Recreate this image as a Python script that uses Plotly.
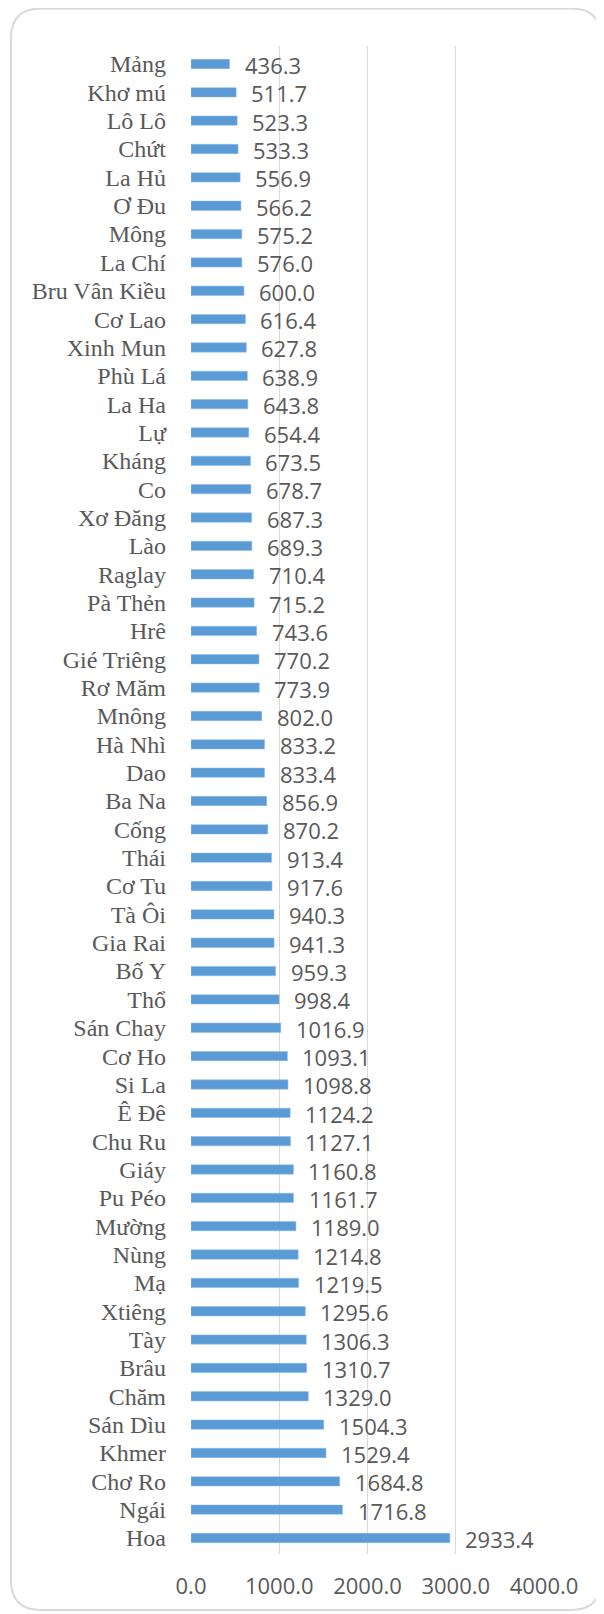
import plotly.graph_objects as go

groups = ["Mảng", "Khơ mú", "Lô Lô", "Chứt", "La Hủ", "Ơ Đu", "Mông", "La Chí",
          "Bru Vân Kiều", "Cơ Lao", "Xinh Mun", "Phù Lá", "La Ha", "Lự", "Kháng",
          "Co", "Xơ Đăng", "Lào", "Raglay", "Pà Thẻn", "Hrê", "Gié Triêng",
          "Rơ Măm", "Mnông", "Hà Nhì", "Dao", "Ba Na", "Cống", "Thái", "Cơ Tu",
          "Tà Ôi", "Gia Rai", "Bố Y", "Thổ", "Sán Chay", "Cơ Ho", "Si La", "Ê Đê",
          "Chu Ru", "Giáy", "Pu Péo", "Mường", "Nùng", "Mạ", "Xtiêng", "Tày",
          "Brâu", "Chăm", "Sán Dìu", "Khmer", "Chơ Ro", "Ngái", "Hoa"]
values = [436.3, 511.7, 523.3, 533.3, 556.9, 566.2, 575.2, 576.0,
          600.0, 616.4, 627.8, 638.9, 643.8, 654.4, 673.5,
          678.7, 687.3, 689.3, 710.4, 715.2, 743.6, 770.2,
          773.9, 802.0, 833.2, 833.4, 856.9, 870.2, 913.4, 917.6,
          940.3, 941.3, 959.3, 998.4, 1016.9, 1093.1, 1098.8, 1124.2,
          1127.1, 1160.8, 1161.7, 1189.0, 1214.8, 1219.5, 1295.6, 1306.3,
          1310.7, 1329.0, 1504.3, 1529.4, 1684.8, 1716.8, 2933.4]
x_ticks = [0, 1000, 2000, 3000, 4000]

# page body has an 8px margin, so the figure is a bit smaller than the window
W, H = 596, 1606
ml, mr, mt, mb = 183, 60, 38, 60

fig = go.Figure()
fig.add_trace(go.Bar(x=values, y=groups, orientation="h",
                     marker=dict(color="#5B9BD5", line=dict(color="#8DBBE6", width=0.5)),
                     hoverinfo="x+y"))

# value labels just past the bar ends
for g, v in zip(groups, values):
    fig.add_annotation(x=v, y=g, text=f"{v:.1f}", showarrow=False,
                       xanchor="left", xshift=13, yshift=-1,
                       font=dict(family="Open Sans", size=22, color="#595959"))

# rounded card border, drawn in paper units
pw, ph = W - ml - mr, H - mt - mb
def px(x): return (x - ml) / pw
def py(y): return (H - mb - y) / ph
x0, x1, y0, y1, r = 3, 593, 0.5, 1602, 30
path = (f"M {px(x0+r)},{py(y0)} L {px(x1-r)},{py(y0)} Q {px(x1)},{py(y0)} {px(x1)},{py(y0+r)} "
        f"L {px(x1)},{py(y1-r)} Q {px(x1)},{py(y1)} {px(x1-r)},{py(y1)} "
        f"L {px(x0+r)},{py(y1)} Q {px(x0)},{py(y1)} {px(x0)},{py(y1-r)} "
        f"L {px(x0)},{py(y0+r)} Q {px(x0)},{py(y0)} {px(x0+r)},{py(y0)} Z")
fig.add_shape(type="path", path=path, xref="paper", yref="paper",
              line=dict(color="#D9D9D9", width=2), layer="below")

fig.update_layout(
    width=W, height=H,
    margin=dict(l=ml, r=mr, t=mt, b=mb),
    paper_bgcolor="white", plot_bgcolor="white",
    showlegend=False, bargap=0.67,
    xaxis=dict(range=[0, 4000], tickvals=x_ticks, ticktext=[f"{t:.1f}" for t in x_ticks],
               showgrid=True, gridcolor="#D9D9D9", gridwidth=1, zeroline=False,
               showline=False, ticks="", ticklabelstandoff=17,
               tickfont=dict(family="Open Sans", size=22, color="#595959")),
    yaxis=dict(categoryorder="array", categoryarray=groups, autorange="reversed",
               tickmode="array", tickvals=groups, ticktext=groups,
               showgrid=False, zeroline=False, showline=False, ticks="",
               ticklabelstandoff=24,
               tickfont=dict(family="Liberation Serif", size=24, color="#595959")),
)

fig.write_html("out.html")
